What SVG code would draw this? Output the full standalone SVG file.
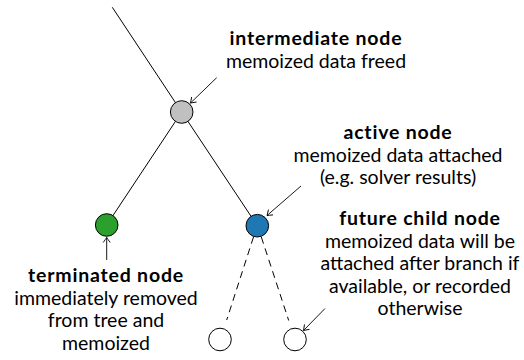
<svg xmlns="http://www.w3.org/2000/svg" width="524" height="360" viewBox="0 0 524 360">
<style>
.edge{stroke:#000;stroke-width:1;fill:none}
.dash{stroke:#000;stroke-width:1;fill:none;stroke-dasharray:7,5}
.arr{stroke:#000;stroke-width:0.9;fill:none;marker-end:url(#ah)}
.node{stroke:#000;stroke-width:1}
text{font-family:Lato,"Open Sans",sans-serif;font-size:19.5px;text-anchor:middle;fill:#000}
.b{font-weight:bold;letter-spacing:0.8px}
</style>
<defs>
<marker id="ah" viewBox="-6 -5 8 10" markerWidth="8" markerHeight="10" refX="0" refY="0" orient="auto" markerUnits="userSpaceOnUse">
<path d="M-5,-3.5 Q-1.5,-1 0,0 Q-1.5,1 -5,3.5" stroke="#000" stroke-width="0.9" fill="none"/>
</marker>
</defs>
<g id="connectors">
<line class="edge" x1="112.3" y1="7.3" x2="181.7" y2="112"/>
<line class="edge" x1="181.7" y1="112" x2="106.7" y2="225"/>
<line class="edge" x1="181.7" y1="112" x2="257.3" y2="225.7"/>
<line class="dash" x1="253.5" y1="237" x2="226.7" y2="320"/>
<line class="dash" x1="261.3" y1="237" x2="288.7" y2="320.5"/>
<line class="arr" x1="216.7" y1="77.7" x2="190.5" y2="103"/>
<line class="arr" x1="301" y1="186" x2="267" y2="215.5"/>
<line class="arr" x1="106.7" y1="260" x2="106.7" y2="237.5"/>
<line class="arr" x1="325" y1="308.5" x2="303.5" y2="330.5"/>
</g>
<g id="n-intermediate">
<circle class="node" cx="181.7" cy="112" r="11.3" fill="#c0c0c0"/>
<text class="b" x="316" y="45">intermediate node</text>
<text x="316" y="68">memoized data freed</text>
</g>
<g id="n-terminated">
<circle class="node" cx="106.7" cy="225" r="11.3" fill="#2ca02c"/>
<text class="b" x="106" y="282">terminated node</text>
<text x="106" y="305">immediately removed</text>
<text x="106" y="327">from tree and</text>
<text x="106" y="349.5">memoized</text>
</g>
<g id="n-active">
<circle class="node" cx="257.3" cy="225.7" r="11.3" fill="#1f77b4"/>
<text class="b" x="398" y="138.5">active node</text>
<text x="398" y="161.5">memoized data attached</text>
<text x="398" y="183.5">(e.g. solver results)</text>
</g>
<g id="n-future">
<circle class="node" cx="220" cy="339.5" r="11.3" fill="#fff"/>
<circle class="node" cx="295" cy="339.5" r="11.3" fill="#fff"/>
<text class="b" x="420" y="224.5">future child node</text>
<text x="420" y="247.5">memoized data will be</text>
<text x="420" y="270">attached after branch if</text>
<text x="420" y="292.5">available, or recorded</text>
<text x="420" y="315">otherwise</text>
</g>
</svg>
